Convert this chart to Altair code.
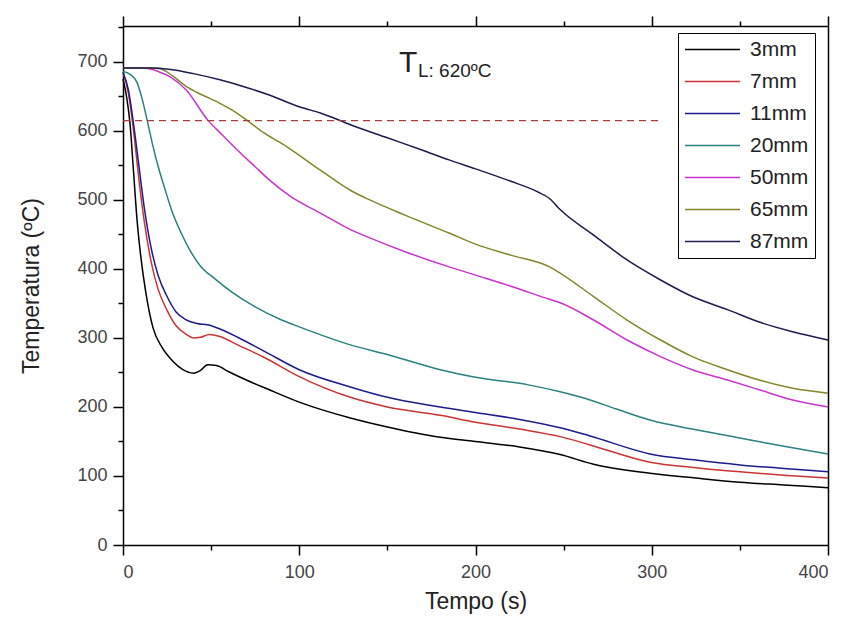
import altair as alt
import pandas as pd

series = ["3mm", "7mm", "11mm", "20mm", "50mm", "65mm", "87mm"]
colors = ["#000000", "#cc3333", "#1c1c8f", "#2b8080", "#cc33cc", "#85852a", "#1c1c4f"]

t_3mm = [0, 2, 4, 6, 8, 10, 13, 17, 22, 28, 34, 40, 44, 48, 53, 60, 70, 82, 100, 129, 150, 180, 200, 225, 248, 267, 299, 325, 350, 375, 400]
T_3mm = [675, 650, 610, 540, 470, 420, 365, 315, 287, 267, 254, 249, 253, 261, 260, 251, 239, 226, 207, 184, 171, 156, 150, 142, 131, 117, 104, 97, 91, 87, 83]

t_7mm = [0, 3, 6, 9, 12, 16, 20, 25, 30, 36, 40, 44, 49, 55, 65, 80, 100, 129, 150, 180, 200, 225, 248, 265, 299, 325, 350, 375, 400]
T_7mm = [685, 655, 600, 530, 470, 410, 370, 340, 318, 305, 300, 301, 305, 302, 290, 272, 244, 214, 200, 188, 178, 168, 157, 145, 120, 112, 106, 101, 97]

t_11mm = [0, 3, 6, 9, 12, 16, 20, 25, 30, 36, 42, 48, 55, 65, 80, 100, 129, 150, 180, 200, 225, 248, 265, 299, 325, 350, 375, 400]
T_11mm = [685, 660, 610, 550, 490, 430, 390, 360, 338, 326, 321, 319, 313, 301, 281, 254, 229, 214, 200, 192, 182, 170, 158, 132, 123, 116, 111, 106]

t_20mm = [0, 4, 8, 11, 14, 17, 20, 24, 28, 33, 38, 44, 52, 62, 75, 90, 100, 129, 150, 180, 200, 230, 248, 260, 280, 299, 325, 350, 375, 400]
T_20mm = [686, 682, 670, 645, 612, 578, 548, 514, 482, 452, 427, 404, 386, 366, 345, 326, 316, 290, 276, 254, 243, 232, 222, 214, 197, 181, 167, 155, 143, 132]

t_50mm = [0, 10, 15, 20, 27, 36, 48, 56, 65, 75, 83, 95, 112, 129, 140, 160, 185, 200, 220, 242, 248, 267, 286, 305, 323, 343, 361, 380, 400]
T_50mm = [691, 691, 690, 686, 678, 659, 616, 595, 572, 548, 529, 505, 481, 457, 445, 425, 403, 391, 375, 356, 351, 326, 297, 273, 254, 239, 225, 210, 200]

t_65mm = [0, 15, 21, 28, 36, 45, 55, 62, 70, 80, 93, 112, 129, 140, 160, 185, 200, 220, 242, 248, 267, 286, 305, 323, 343, 361, 380, 400]
T_65mm = [691, 691, 690, 680, 664, 652, 640, 630, 616, 597, 577, 543, 514, 500, 478, 452, 436, 420, 403, 394, 360, 326, 297, 273, 254, 239, 227, 220]

t_87mm = [0, 15, 27, 40, 55, 70, 83, 100, 112, 129, 150, 170, 185, 200, 220, 235, 242, 248, 267, 286, 305, 323, 343, 361, 380, 400]
T_87mm = [691, 691, 689, 683, 674, 663, 652, 635, 626, 609, 590, 572, 558, 545, 527, 512, 502, 486, 449, 413, 384, 360, 341, 323, 309, 297]

liq_t = [0, 306]
liq_T = [615, 615]

x_ticks = list(range(0, 401, 50))
y_ticks = list(range(0, 751, 50))

all_t = [t_3mm, t_7mm, t_11mm, t_20mm, t_50mm, t_65mm, t_87mm]
all_T = [T_3mm, T_7mm, T_11mm, T_20mm, T_50mm, T_65mm, T_87mm]

rows = []
for name, ts, Ts in zip(series, all_t, all_T):
    for i, (a, b) in enumerate(zip(ts, Ts)):
        rows.append({"serie": name, "t": a, "T": b, "i": i})
df = pd.DataFrame(rows)

liq_df = pd.DataFrame({"t": liq_t, "T": liq_T})

FONT = "Liberation Sans"
tick_cond = {"condition": {"test": "datum.value % 100 === 0", "value": 10}, "value": 5}

x_scale = alt.Scale(domain=[0, 400], nice=False, zero=False)
y_scale = alt.Scale(domain=[0, 752], nice=False)

lines = alt.Chart(df).mark_line(strokeWidth=1.5, interpolate="monotone").encode(
    x=alt.X("t:Q", scale=x_scale,
            axis=alt.Axis(title="Tempo (s)", values=x_ticks, orient="bottom",
                          labelExpr="datum.value % 100 === 0 ? datum.label : ''",
                          tickSize=tick_cond, labelPadding=8, titlePadding=9)),
    y=alt.Y("T:Q", scale=y_scale,
            axis=alt.Axis(title="Temperatura (ºC)", values=y_ticks, orient="left",
                          labelExpr="datum.value % 100 === 0 ? datum.label : ''",
                          tickSize=tick_cond, labelPadding=6, titlePadding=33)),
    color=alt.Color("serie:N", scale=alt.Scale(domain=series, range=colors),
                    legend=alt.Legend(orient="none", legendX=555, legendY=7, title=None,
                                      symbolType="stroke", symbolSize=3025, symbolStrokeWidth=1.5,
                                      clipHeight=21, rowPadding=10, labelFontSize=21,
                                      labelFont=FONT, labelColor="#222222", labelOffset=9,
                                      strokeColor="black", fillColor="white", padding=6,
                                      labelLimit=200)),
    order="i:Q",
    detail="serie:N",
)

liq = alt.Chart(liq_df).mark_line(strokeWidth=1.3, strokeDash=[7, 5], color="#a83c3c").encode(
    x=alt.X("t:Q", scale=x_scale,
            axis=alt.Axis(title=None, values=x_ticks, orient="top", labels=False,
                          tickSize=tick_cond)),
    y=alt.Y("T:Q", scale=y_scale,
            axis=alt.Axis(title=None, orient="right", labels=False, ticks=False)),
)

ann_df = pd.DataFrame({"a": ["T"], "b": ["L: 620ºC"]})
ann_T = alt.Chart(ann_df).mark_text(font=FONT, fontSize=30, align="left", baseline="alphabetic",
                                    color="#222222").encode(
    x=alt.value(276), y=alt.value(46), text="a:N")
ann_L = alt.Chart(ann_df).mark_text(font=FONT, fontSize=19, align="left", baseline="alphabetic",
                                    color="#222222").encode(
    x=alt.value(295), y=alt.value(51), text="b:N")

chart = alt.layer(lines, liq, ann_T, ann_L).resolve_axis(
    x="independent", y="independent"
).properties(
    width=705, height=519,
    background="white",
    autosize=alt.AutoSizeParams(type="none"),
    padding={"left": 115, "top": 18, "right": 8, "bottom": 69},
).configure_view(
    stroke=None
).configure_axis(
    domainColor="black", domainWidth=1.5, tickColor="black", tickWidth=1.5,
    labelFont=FONT, labelFontSize=18, labelColor="#444444",
    titleFont=FONT, titleFontSize=23, titleFontWeight="normal", titleColor="#222222",
    grid=False,
)

chart.save("out.html", embed_options={"renderer": "svg", "actions": False})
